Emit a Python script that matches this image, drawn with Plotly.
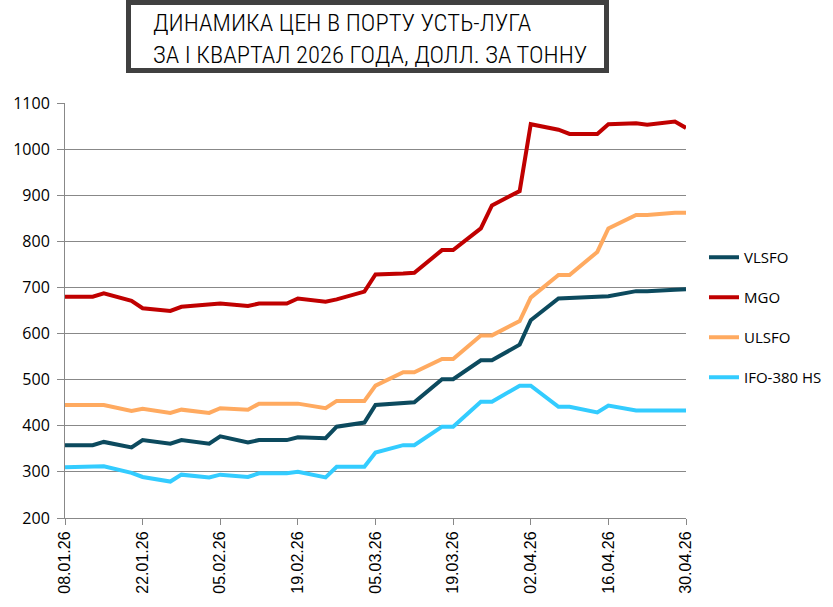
import plotly.graph_objects as go

dates = ["2026-01-08", "2026-01-13", "2026-01-15", "2026-01-20", "2026-01-22", "2026-01-27",
         "2026-01-29", "2026-02-03", "2026-02-05", "2026-02-10", "2026-02-12", "2026-02-17",
         "2026-02-19", "2026-02-24", "2026-02-26", "2026-03-03", "2026-03-05", "2026-03-10",
         "2026-03-12", "2026-03-17", "2026-03-19", "2026-03-24", "2026-03-26", "2026-03-31",
         "2026-04-02", "2026-04-07", "2026-04-09", "2026-04-14", "2026-04-16", "2026-04-21",
         "2026-04-23", "2026-04-28", "2026-04-30"]

vlsfo = [358, 358, 365, 353, 369, 361, 369, 361, 377, 364, 369, 369, 375, 373, 398, 407, 445,
         450, 451, 501, 501, 542, 542, 576, 629, 676, 677, 680, 681, 692, 692, 695, 696]
mgo = [680, 680, 687, 671, 655, 649, 658, 662, 665, 660, 665, 665, 676, 669, 674, 691, 728,
       730, 732, 781, 781, 828, 878, 909, 1054, 1042, 1033, 1033, 1054, 1056, 1053, 1060, 1046]
ulsfo = [445, 445, 445, 432, 437, 428, 435, 428, 438, 435, 448, 448, 448, 438, 454, 454, 487,
         516, 516, 545, 545, 596, 596, 627, 678, 727, 727, 777, 828, 857, 857, 862, 862]
ifo380 = [310, 310, 312, 298, 289, 279, 294, 288, 294, 289, 297, 297, 300, 288, 311, 311, 342,
          358, 358, 398, 398, 452, 452, 487, 487, 441, 441, 429, 444, 433, 433, 433, 433]

series_names = ["VLSFO", "MGO", "ULSFO", "IFO-380 HS"]
series_colors = ["#0C4A5E", "#C00000", "#FFAA60", "#33CCFF"]

tick_dates = ["2026-01-08", "2026-01-22", "2026-02-05", "2026-02-19", "2026-03-05",
              "2026-03-19", "2026-04-02", "2026-04-16", "2026-04-30"]
tick_labels = ["08.01.26", "22.01.26", "05.02.26", "19.02.26", "05.03.26",
               "19.03.26", "02.04.26", "16.04.26", "30.04.26"]
y_ticks = [200, 300, 400, 500, 600, 700, 800, 900, 1000, 1100]

title_lines = ["ДИНАМИКА ЦЕН В ПОРТУ УСТЬ-ЛУГА", "ЗА I КВАРТАЛ 2026 ГОДА, ДОЛЛ. ЗА ТОННУ"]

W, H = 833, 607
L, R, T, B = 65, 147, 103, 89
pw, ph = W - L - R, H - T - B


def px_x(x):
    return (x - L) / pw


def px_y(y):
    return (H - B - y) / ph


fig = go.Figure()
for i, (name, vals) in enumerate(zip(series_names, [vlsfo, mgo, ulsfo, ifo380])):
    fig.add_trace(go.Scatter(
        x=dates, y=vals, name=name, mode="lines",
        line=dict(color=series_colors[i], width=4),
        legendgroup=name,
    ))

fig.update_layout(
    width=W, height=H,
    margin=dict(l=L, r=R, t=T, b=B, autoexpand=False),
    paper_bgcolor="white", plot_bgcolor="white",
    showlegend=True,
    legend=dict(
        x=px_x(704), xanchor="left", y=px_y(241), yanchor="top",
        font=dict(family="Open Sans, Noto Sans, sans-serif", size=15, color="#000"),
        tracegroupgap=17.5, bgcolor="rgba(0,0,0,0)",
    ),
    xaxis=dict(
        type="date",
        range=[dates[0], dates[-1]],
        tickvals=tick_dates, ticktext=tick_labels,
        tickangle=-90,
        tickfont=dict(family="Liberation Sans, Arial, sans-serif", size=16, color="#000"),
        showgrid=False, showline=True, linecolor="#888888", linewidth=1,
        ticks="outside", ticklen=6, tickcolor="#888888",
        zeroline=False,
    ),
    yaxis=dict(
        range=[200, 1100], tickvals=y_ticks,
        tickfont=dict(family="Open Sans, Noto Sans, sans-serif", size=16, color="#000"),
        showgrid=True, gridcolor="#888888", gridwidth=1,
        showline=True, linecolor="#888888", linewidth=1,
        ticks="outside", ticklen=7, tickcolor="#888888",
        ticklabelstandoff=4,
        zeroline=False,
    ),
)

# title box
fig.add_shape(type="rect", xref="paper", yref="paper",
              x0=px_x(128.5), x1=px_x(606.5), y0=px_y(70.5), y1=px_y(2.5),
              line=dict(color="#404040", width=5), fillcolor="white", layer="above")
fig.add_annotation(
    xref="paper", yref="paper", x=px_x(151), y=px_y(6), xanchor="left", yanchor="top",
    text="<br>".join(title_lines), showarrow=False, align="left",
    font=dict(family="Roboto Condensed, Liberation Sans, sans-serif",
              size=24.6, color="#000", weight=300),
)

fig.write_html("out.html")
